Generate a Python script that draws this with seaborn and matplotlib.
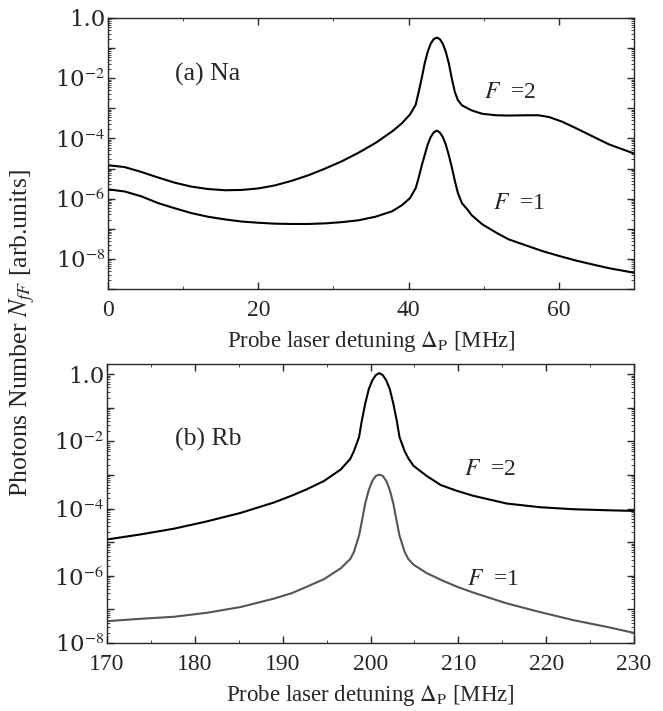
import numpy as np
import pandas as pd
import matplotlib
matplotlib.use("Agg")
import matplotlib.pyplot as plt
import matplotlib.ticker as mticker
import seaborn as sns

# panel (a) Na: probe detuning [MHz] and log10 of photon number
na_x_f2 = [0, 2.2, 4.4, 6.7, 8.9, 11.1, 13.3, 15.6, 17.8, 20, 22.2, 24.4, 26.7, 28.9, 31.1, 33.3,
           35.6, 37.8, 39.1, 40.2, 40.95, 41.35, 41.75, 42.15, 42.55, 42.95, 43.35, 43.75, 44.15,
           44.55, 44.95, 45.35, 45.75, 46.15, 46.55, 47.1, 48.4, 49.8, 51.6, 53.3, 55.6, 57.3,
           58.7, 60.4, 62.2, 64.4, 66.7, 70]
na_log_f2 = [-4.89, -4.95, -5.11, -5.30, -5.47, -5.60, -5.68, -5.72, -5.71, -5.66, -5.56, -5.41,
             -5.22, -5.00, -4.76, -4.48, -4.15, -3.77, -3.50, -3.20, -2.88, -2.45, -2.00, -1.50,
             -1.12, -0.85, -0.70, -0.65, -0.70, -0.85, -1.12, -1.50, -2.00, -2.45, -2.72, -2.90,
             -3.07, -3.18, -3.23, -3.24, -3.23, -3.23, -3.29, -3.44, -3.65, -3.92, -4.20, -4.50]
na_x_f1 = [0, 2.2, 4.4, 6.7, 8.9, 11.1, 13.3, 15.6, 17.8, 20, 22.2, 24.4, 26.7, 28.9, 31.1, 33.3,
           35.6, 37.8, 39.1, 40.2, 40.95, 41.35, 41.75, 42.15, 42.55, 42.95, 43.35, 43.75, 44.15,
           44.55, 44.95, 45.35, 45.75, 46.15, 46.55, 47.1, 47.8, 48.4, 49.8, 51.6, 53.3, 55.6,
           57.8, 60, 62.2, 64.4, 66.7, 70]
na_log_f1 = [-5.69, -5.76, -5.92, -6.15, -6.32, -6.48, -6.60, -6.69, -6.76, -6.80, -6.83, -6.84,
             -6.84, -6.82, -6.78, -6.72, -6.60, -6.42, -6.22, -5.98, -5.65, -5.30, -4.90, -4.55,
             -4.20, -3.95, -3.80, -3.74, -3.80, -3.95, -4.20, -4.55, -4.95, -5.40, -5.80, -6.15,
             -6.35, -6.55, -6.85, -7.12, -7.35, -7.55, -7.74, -7.90, -8.05, -8.18, -8.31, -8.46]

# panel (b) Rb
rb_x = [170, 173.8, 177.6, 181.4, 185.2, 189.0, 191, 192.8, 194.7, 196.6, 197.7, 198.1, 198.7,
        199.0, 199.4, 199.8, 200.2, 200.6, 201.0, 201.4, 201.8, 202.2, 202.6, 203.0, 203.3, 203.9,
        204.3, 204.9, 206.4, 208.0, 209.8, 211.7, 215.5, 219.3, 223.1, 226.9, 230]
rb_log_f2 = [-4.92, -4.77, -4.60, -4.38, -4.13, -3.82, -3.62, -3.42, -3.18, -2.84, -2.52, -2.30,
             -1.87, -1.40, -0.88, -0.45, -0.19, -0.03, 0.03, -0.03, -0.19, -0.45, -0.88, -1.40,
             -1.87, -2.30, -2.50, -2.73, -3.03, -3.30, -3.47, -3.62, -3.85, -3.96, -4.02, -4.05,
             -4.07]
rb_log_f1 = [-7.35, -7.28, -7.22, -7.10, -6.93, -6.68, -6.52, -6.32, -6.10, -5.78, -5.50, -5.30,
             -4.80, -4.40, -3.85, -3.45, -3.18, -3.03, -2.99, -3.03, -3.18, -3.45, -3.85, -4.40,
             -4.80, -5.30, -5.50, -5.67, -5.92, -6.12, -6.32, -6.50, -6.82, -7.08, -7.32, -7.52,
             -7.70]

sns.set_style("ticks")
plt.rcParams["font.family"] = ["Liberation Serif", "DejaVu Serif"]
plt.rcParams["mathtext.fontset"] = "stix"

na = pd.DataFrame({"x": na_x_f2 + na_x_f1,
                   "y": 10 ** np.array(na_log_f2 + na_log_f1),
                   "F": ["2"] * len(na_x_f2) + ["1"] * len(na_x_f1)})
rb = pd.DataFrame({"x": rb_x + rb_x,
                   "y": 10 ** np.array(rb_log_f2 + rb_log_f1),
                   "F": ["2"] * len(rb_x) + ["1"] * len(rb_x)})

fig = plt.figure(figsize=(6.63, 7.11), dpi=100)
ax1 = fig.add_axes([108 / 663, 1 - 289 / 711, 526 / 663, 271 / 711])
ax2 = fig.add_axes([107 / 663, 1 - 643 / 711, 527 / 663, 279 / 711])

sns.lineplot(data=na, x="x", y="y", hue="F", palette={"2": "black", "1": "black"},
             ax=ax1, legend=False, linewidth=1.5, estimator=None, sort=False)
sns.lineplot(data=rb, x="x", y="y", hue="F", palette={"2": "black", "1": "#555555"},
             ax=ax2, legend=False, linewidth=1.5, estimator=None, sort=False)


def ylabels(v, pos):
    e = int(round(np.log10(v)))
    if e == 0:
        return "1.0"
    if e % 2:
        return ""
    return r"10$^{%d}$" % e


for ax in (ax1, ax2):
    ax.set_yscale("log")
    ax.yaxis.set_major_locator(mticker.LogLocator(base=10, numticks=20))
    ax.yaxis.set_minor_locator(mticker.LogLocator(base=10, subs=np.arange(2, 10), numticks=20))
    ax.yaxis.set_major_formatter(mticker.FuncFormatter(ylabels))
    ax.yaxis.set_minor_formatter(mticker.NullFormatter())
    ax.tick_params(which="both", direction="in", top=True, right=True)
    ax.tick_params(which="major", length=5, width=1)
    ax.tick_params(which="minor", length=2.5, width=0.6)
    ax.tick_params(axis="y", labelsize=16.5, pad=2)
    for s in ax.spines.values():
        s.set_linewidth(1.0)
    ax.set_ylabel("")

ax1.tick_params(axis="x", labelsize=17, pad=8)
ax2.tick_params(axis="x", labelsize=17, pad=8)
ax1.set_xlabel(r"Probe laser detuning $\Delta_{\rm P}$ [MHz]", fontsize=16.5, labelpad=6)
ax2.set_xlabel(r"Probe laser detuning $\Delta_{\rm P}$ [MHz]", fontsize=16.5, labelpad=6)

ax1.set_xlim(0, 70)
ax1.set_ylim(1e-9, 1)
ax1.xaxis.set_major_locator(mticker.MultipleLocator(20))
ax1.xaxis.set_minor_locator(mticker.MultipleLocator(10))
ax2.set_xlim(170, 230)
ax2.set_ylim(1e-8, 2)
ax2.xaxis.set_major_locator(mticker.MultipleLocator(10))
ax2.xaxis.set_minor_locator(mticker.MultipleLocator(5))

for ax in (ax1, ax2):
    plt.setp(ax.get_yticklabels(), family="DejaVu Serif")

ax1.text(8.9, 10 ** -1.87, "(a) Na", fontsize=18.5, va="center")
ax1.text(50, 10 ** -2.47, "$F$  =2", fontsize=17, va="center")
ax1.text(51.2, 10 ** -6.17, "$F$  =1", fontsize=17, va="center")
ax2.text(177.75, 10 ** -1.94, "(b) Rb", fontsize=18.5, va="center")
ax2.text(210.6, 10 ** -2.83, "$F$  =2", fontsize=17, va="center")
ax2.text(211.0, 10 ** -6.12, "$F$  =1", fontsize=17, va="center")

fig.text(22 / 663, 1 - 333 / 711, r"Photons Number $N_{fF}$ [arb.units]", rotation=90,
         fontsize=18.5, ha="center", va="center")

fig.savefig("out.png", dpi=100)
